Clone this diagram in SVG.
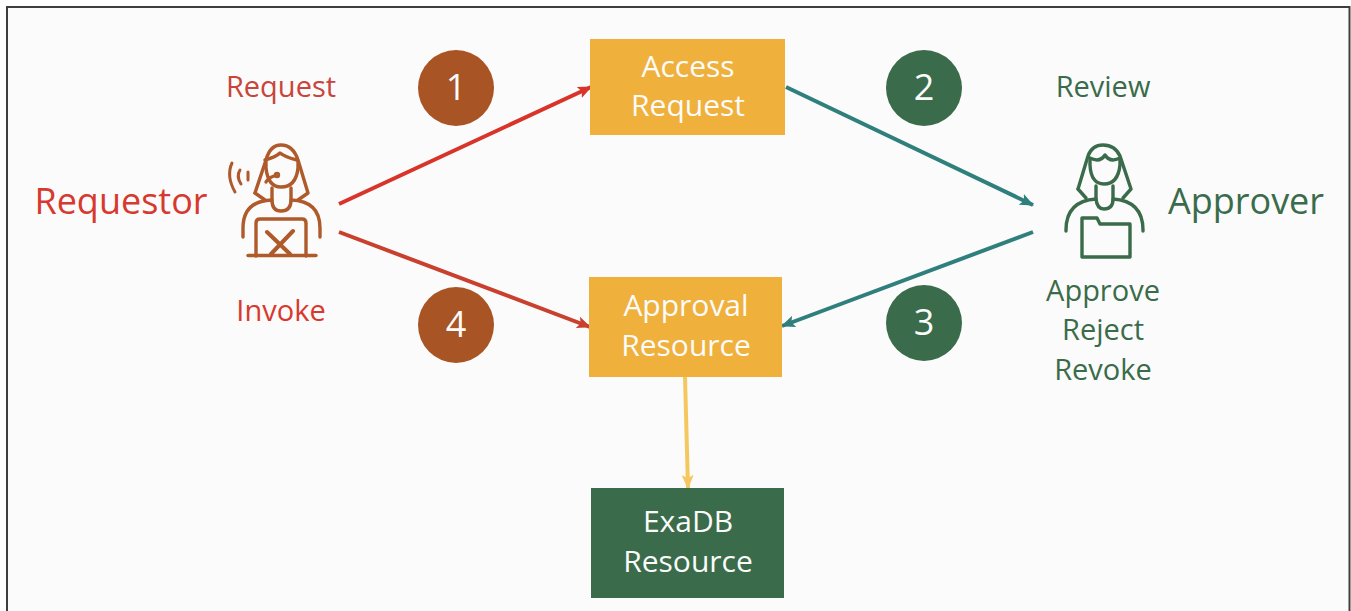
<svg xmlns="http://www.w3.org/2000/svg" width="1351" height="611" viewBox="0 0 1351 611">
<defs>
<marker id="aRed" markerUnits="userSpaceOnUse" markerWidth="14" markerHeight="12" refX="13" refY="6" orient="auto"><path d="M0 0L14 6L0 12L3 6Z" fill="#d8342a"/></marker>
<marker id="aRed2" markerUnits="userSpaceOnUse" markerWidth="14" markerHeight="12" refX="13" refY="6" orient="auto"><path d="M0 0L14 6L0 12L3 6Z" fill="#c9402f"/></marker>
<marker id="aTeal" markerUnits="userSpaceOnUse" markerWidth="14" markerHeight="12" refX="13" refY="6" orient="auto"><path d="M0 0L14 6L0 12L3 6Z" fill="#2f7f7c"/></marker>
<marker id="aYel" markerUnits="userSpaceOnUse" markerWidth="14" markerHeight="12" refX="13" refY="6" orient="auto"><path d="M0 0L14 6L0 12L3 6Z" fill="#f5c85f"/></marker>
</defs>
<style>
text{font-family:"Open Sans","Noto Sans",sans-serif;text-anchor:middle}
.box{font-size:30px;fill:#fbfbfb}
.num{font-size:36px;fill:#fbfbfb}
.red{fill:#d8392f}
.grn{fill:#3a6b4a}
.lbl{font-size:29px}
.big{font-size:36px}
.ico{fill:none;stroke-width:3.4;stroke-linejoin:round;stroke-linecap:round}
.conn{fill:none;stroke-width:4}
</style>
<rect x="0" y="0" width="1351" height="611" fill="#ffffff"/>
<rect x="7" y="7" width="1342.500" height="610" fill="#fbfbfb" stroke="#3e3e3c" stroke-width="2"/>
<g id="connectors">
<path class="conn" d="M339 204L591 87" stroke="#d8342a" marker-end="url(#aRed)"/>
<path class="conn" d="M786 87L1033 205" stroke="#2f7f7c" marker-end="url(#aTeal)"/>
<path class="conn" d="M1033 232L782 326" stroke="#2f7f7c" marker-end="url(#aTeal)"/>
<path class="conn" d="M339 232L590 327" stroke="#c9402f" marker-end="url(#aRed2)"/>
<path class="conn" d="M685 377L688 488" stroke="#f5c85f" marker-end="url(#aYel)"/>
</g>
<g id="access-request"><rect x="590" y="39" width="195" height="96" fill="#efb13c"/><text class="box" x="688" y="77">Access</text><text class="box" x="688" y="116">Request</text></g>
<g id="approval-resource"><rect x="589" y="277" width="193" height="100" fill="#efb13c"/><text class="box" x="686" y="316">Approval</text><text class="box" x="686" y="356">Resource</text></g>
<g id="exadb-resource"><rect x="591" y="488" width="193" height="110" fill="#3a6b4a"/><text class="box" x="688" y="532">ExaDB</text><text class="box" x="688" y="572">Resource</text></g>
<g id="step-1"><circle cx="456" cy="88" r="38" fill="#a85424"/><text class="num" x="456" y="100">1</text></g>
<g id="step-2"><circle cx="924" cy="88" r="38" fill="#3a6b4a"/><text class="num" x="924" y="100">2</text></g>
<g id="step-3"><circle cx="924" cy="323" r="38" fill="#3a6b4a"/><text class="num" x="924" y="335">3</text></g>
<g id="step-4"><circle cx="456" cy="325" r="38" fill="#a85424"/><text class="num" x="456" y="337">4</text></g>
<g id="requestor">
<text class="big red" x="121" y="214">Requestor</text>
<text class="lbl" x="281" y="97" fill="#c9443a">Request</text>
<text class="lbl red" x="281" y="321">Invoke</text>
<g class="ico" stroke="#ae5a2a">
<path d="M255 193L266 160Q270 145 281 145Q293 145 298 160L308 193L298 200"/>
<path d="M255 193L265 200"/>
<path d="M265 160Q276 157 280 153Q285 157 297 160"/>
<path d="M266 162L266 168Q268 187 281 187Q296 187 298 168L298 162"/>
<path d="M272 188L272 200Q272 211 281 211Q291 211 291 200L291 188"/>
<path d="M272 200Q243 201 243 228L243 237"/>
<path d="M291 200Q320 201 320 228L320 237"/>
<path d="M256 256L256 223Q256 219 260 219L302 219Q306 219 306 223L306 256"/>
<path d="M248 255.500L316 255.500"/>
<path d="M266 182Q268 178 274 176"/>
<path d="M232 163Q226 176 235 192" stroke-width="3"/>
<path d="M240 170Q236 176 241 184" stroke-width="3"/>
<path d="M248 172L248 180" stroke-width="3"/>
<path d="M267 232L290 254M293 231L271 254" stroke-width="4"/>
<circle cx="277" cy="175" r="1.500"/>
</g>
</g>
<g id="approver">
<text class="big grn" x="1246" y="214">Approver</text>
<text class="lbl grn" x="1103" y="97">Review</text>
<text class="lbl grn" x="1103" y="301">Approve</text>
<text class="lbl grn" x="1103" y="340">Reject</text>
<text class="lbl grn" x="1103" y="380">Revoke</text>
<g class="ico" stroke="#3a6b4a">
<path d="M1078 189L1088 156Q1092 145 1103 145Q1115 145 1120 156L1131 189L1123 198"/>
<path d="M1078 189L1086 198"/>
<path d="M1090 158Q1100 163 1105 155Q1110 163 1120 158"/>
<path d="M1090 160L1090 165Q1091 184 1104 184Q1118 184 1120 165L1120 160"/>
<path d="M1096 186L1096 199Q1097 209 1104 209Q1113 209 1113 199L1113 186"/>
<path d="M1096 199Q1066 201 1066 230L1066 231"/>
<path d="M1113 199Q1143 201 1143 230L1143 231"/>
<path d="M1082 257L1082 218L1097 218L1100 224L1130 224L1130 257Z"/>
</g>
</g>
</svg>
